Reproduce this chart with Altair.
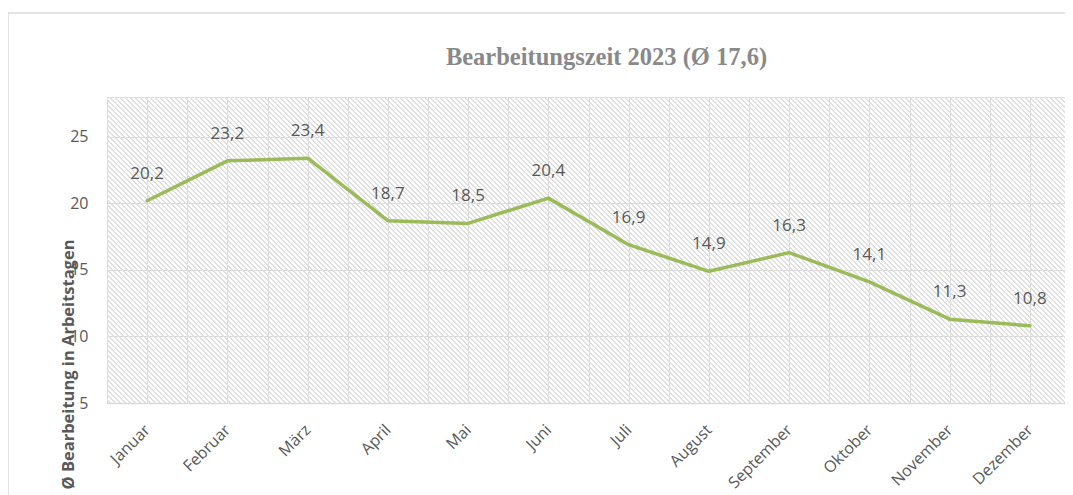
import altair as alt
import pandas as pd

months = ["Januar", "Februar", "März", "April", "Mai", "Juni", "Juli",
          "August", "September", "Oktober", "November", "Dezember"]
values = [20.2, 23.2, 23.4, 18.7, 18.5, 20.4, 16.9, 14.9, 16.3, 14.1, 11.3, 10.8]
y_ticks = [5, 10, 15, 20, 25]
title_text = "Bearbeitungszeit 2023 (Ø 17,6)"
y_title = "Ø Bearbeitung in Arbeitstagen"

df = pd.DataFrame({
    "month": months,
    "value": values,
    "pos": [i + 0.5 for i in range(len(months))],
})

W, H = 963, 306
GRID = "#d9d9d9"
TXT = "#595959"
FONT = "Open Sans"

# diagonal hatch as a striped linear gradient (lines running top-left -> bottom-right)
N = round((W + H) / 5)
GRAY_FRAC = 0.4
clear = "rgba(255,255,255,0)"
hatch = "#dfdfdf"
stops = []
for k in range(N):
    a = k / N
    b = (k + 1 - GRAY_FRAC) / N
    c = (k + 1) / N
    stops += [alt.GradientStop(offset=a, color=clear),
              alt.GradientStop(offset=b, color=clear),
              alt.GradientStop(offset=b, color=hatch),
              alt.GradientStop(offset=c, color=hatch)]
kk = (W + H) / (W * W + H * H)
grad = alt.LinearGradient(gradient="linear", stops=stops,
                          x1=0, y1=1, x2=kk * W, y2=1 - kk * H)

one = alt.Data(values=[{"a": 0}])

border = alt.Chart(one).mark_rect(fill=None, stroke=GRID, strokeWidth=1.5).encode(
    x=alt.value(-99), x2=alt.value(W + 30), y=alt.value(-84), y2=alt.value(H + 150)
)

hatch_rect = alt.Chart(one).mark_rect(color=grad).encode(
    x=alt.value(0), x2=alt.value(W), y=alt.value(0), y2=alt.value(H)
)

month_param = alt.param(name="monthNames", value=months)
half_vals = [k * 0.5 for k in range(0, 2 * len(months) + 1)]

x_enc = alt.X("pos:Q",
              scale=alt.Scale(domain=[0, len(months)], nice=False, zero=False),
              axis=alt.Axis(values=half_vals, title=None, grid=True, gridColor=GRID,
                            gridWidth=1, ticks=False, domain=True, domainColor=GRID,
                            domainWidth=1.5, labelAngle=-45, labelAlign="right",
                            labelBaseline="middle", labelPadding=24, labelFont=FONT,
                            labelFontSize=16, labelColor=TXT, labelOverlap=False,
                            labelBound=False, labelFlush=False,
                            labelExpr="(datum.value - floor(datum.value)) > 0.25 ? monthNames[floor(datum.value)] : ''"))
y_enc = alt.Y("value:Q",
              scale=alt.Scale(domain=[5, 28], nice=False, zero=False),
              axis=alt.Axis(values=y_ticks, title=y_title, grid=True, gridColor=GRID,
                            gridWidth=1, ticks=False, domain=False, labelPadding=19,
                            labelFont=FONT, labelFontSize=16, labelColor=TXT,
                            titleFont=FONT, titleFontSize=16.5, titleFontWeight="bold",
                            titleColor=TXT, titleAngle=270, titleAlign="center",
                            titleBaseline="middle", titleX=-39, titleY=267))

line = alt.Chart(df).mark_line(color="#9BBB59", strokeWidth=3.5, strokeJoin="round",
                               strokeCap="round")

labels = alt.Chart(df).transform_calculate(
    lbl="replace(format(datum.value, '.1f'), '.', ',')"
).mark_text(font=FONT, fontSize=17, color=TXT, dy=-27, baseline="middle",
            align="center").encode(text="lbl:N")

data_layer = alt.layer(line, labels).encode(x=x_enc, y=y_enc)

chart = alt.layer(border, hatch_rect, data_layer).add_params(month_param).properties(
    width=W, height=H,
    title=alt.TitleParams(text=title_text, font="Liberation Serif", fontSize=24.5,
                          fontWeight="bold", color="#898989", anchor="middle",
                          frame="group", dx=18, dy=58, offset=0),
    autosize=alt.AutoSizeParams(type="none"),
    padding={"left": 99, "top": 89, "right": -5, "bottom": 92},
).configure_view(stroke=None).configure(background="white")

chart.save("out.html", embed_options={"renderer": "svg", "actions": False})
